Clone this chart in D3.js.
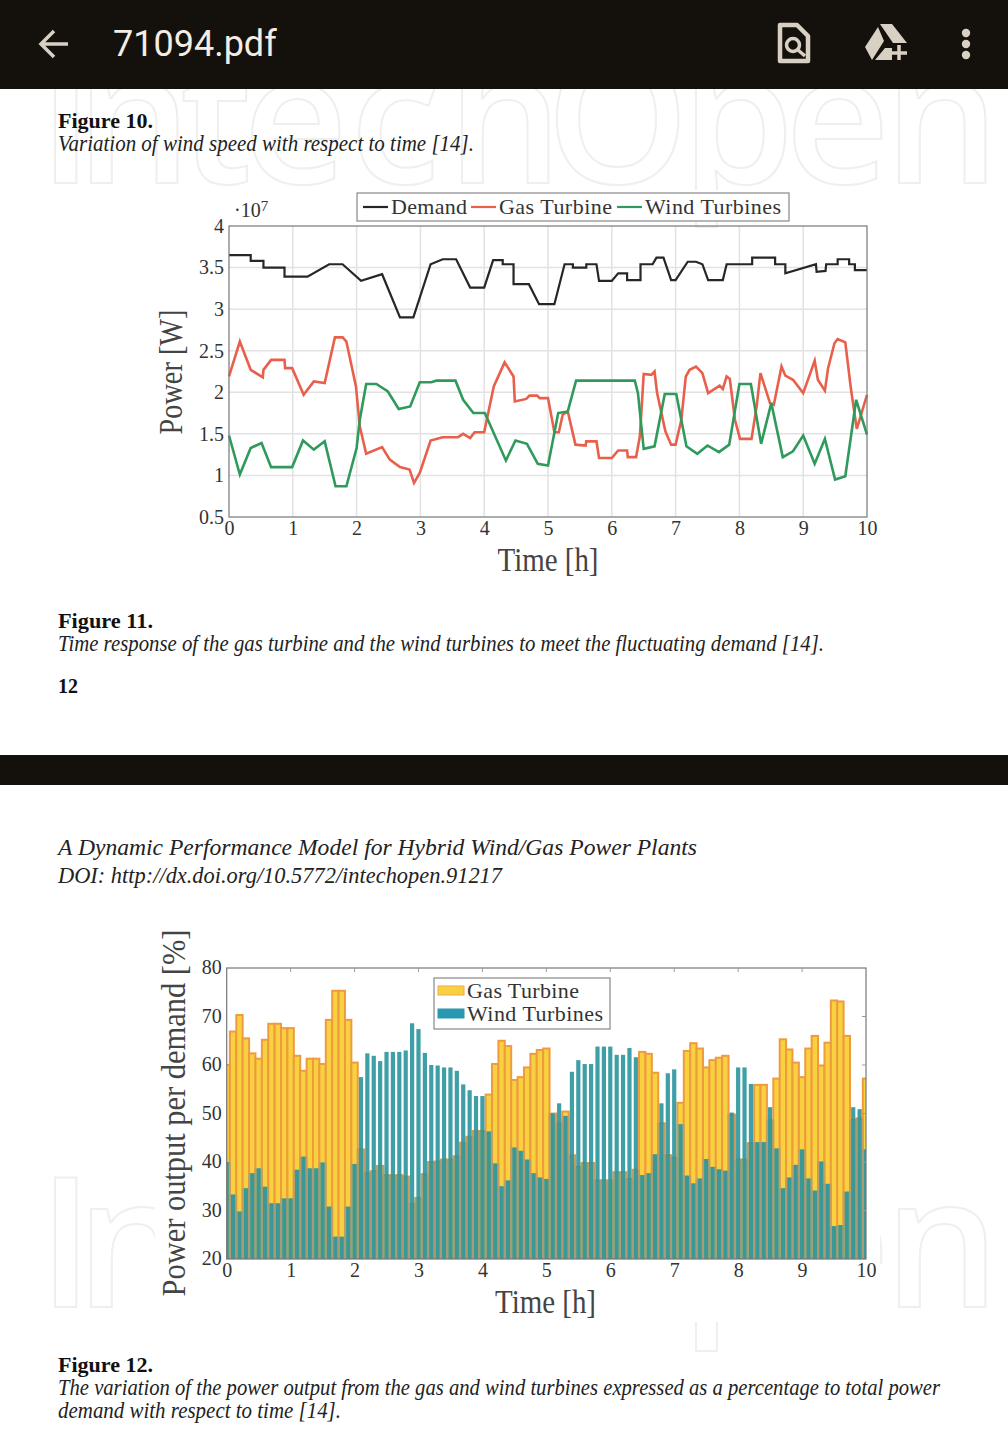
<!DOCTYPE html>
<html>

<head>
    <meta charset="utf-8">
    <style>
        body {
            margin: 0;
            background: #fff;
        }

        svg {
            display: block;
        }

        text {
            font-family: "Liberation Serif", serif;
            fill: #2a2a2a;
        }

        .caption-bold {
            font-size: 21px;
            font-weight: bold;
            fill: #111;
        }

        .caption {
            font-size: 23px;
            font-style: italic;
            fill: #222;
        }

        .watermark {
            font-family: "Open Sans", sans-serif;
            font-weight: 600;
            font-size: 182px;
            fill: none;
            stroke: #efefef;
            stroke-width: 2;
        }

        .tick text {
            font-size: 20px;
            fill: #333;
        }

        .axis-label {
            font-size: 33px;
            fill: #444;
        }

        .legend-label {
            font-size: 22px;
            fill: #333;
        }

        .domain {
            display: none;
        }
    </style>
</head>

<body>
    <svg width="1008" height="1448"></svg>

    <script src="https://d3js.org/d3.v7.min.js"></script>

    <script>
        // Figure 11: vertices, time in hours, power in 10^7 W
        let demandTime = [0, .34, .34, .54, .54, .87, .87, 1.23, 1.57, 1.78, 2.07, 2.4, 2.68, 2.89, 3.16, 3.35, 3.56, 3.78, 4, 4.14, 4.29, 4.29, 4.46, 4.46, 4.7, 4.86, 5.1, 5.26, 5.39, 5.39, 5.6, 5.6, 5.76, 5.8, 6, 6.1, 6.24, 6.24, 6.45, 6.45, 6.64, 6.7, 6.81, 6.93, 7, 7.19, 7.32, 7.42, 7.51, 7.74, 7.8, 8.2, 8.2, 8.56, 8.56, 8.72, 8.72, 9.2, 9.21, 9.35, 9.36, 9.54, 9.54, 9.72, 9.72, 9.81, 9.81, 10]
        let demandPower = [3.65, 3.65, 3.58, 3.58, 3.5, 3.5, 3.39, 3.39, 3.54, 3.54, 3.34, 3.42, 2.9, 2.9, 3.54, 3.6, 3.6, 3.26, 3.26, 3.59, 3.59, 3.54, 3.54, 3.3, 3.3, 3.06, 3.06, 3.54, 3.54, 3.5, 3.5, 3.54, 3.54, 3.34, 3.34, 3.43, 3.43, 3.35, 3.35, 3.54, 3.54, 3.62, 3.62, 3.35, 3.35, 3.57, 3.57, 3.54, 3.35, 3.35, 3.54, 3.54, 3.62, 3.62, 3.54, 3.54, 3.43, 3.54, 3.45, 3.46, 3.54, 3.54, 3.6, 3.6, 3.54, 3.54, 3.47, 3.47]

        let gasTime = [0, .17, .34, .53, .54, .66, .87, .88, .99, 1.17, 1.33, 1.5, 1.66, 1.78, 1.84, 1.99, 2.05, 2.15, 2.4, 2.52, 2.68, 2.83, 2.9, 2.99, 3.16, 3.35, 3.59, 3.67, 3.78, 3.85, 4, 4.15, 4.32, 4.46, 4.48, 4.66, 4.71, 4.83, 4.87, 5, 5.1, 5.17, 5.23, 5.31, 5.43, 5.59, 5.6, 5.76, 5.8, 6, 6.1, 6.24, 6.25, 6.38, 6.44, 6.5, 6.62, 6.67, 6.71, 6.84, 6.93, 7, 7.09, 7.16, 7.22, 7.32, 7.42, 7.51, 7.69, 7.74, 7.8, 7.85, 7.93, 8.01, 8.19, 8.27, 8.33, 8.48, 8.54, 8.66, 8.72, 8.84, 9, 9.18, 9.23, 9.34, 9.39, 9.49, 9.54, 9.66, 9.75, 9.84, 10]
        let gasPower = [2.19, 2.61, 2.27, 2.18, 2.27, 2.39, 2.39, 2.29, 2.29, 1.97, 2.13, 2.11, 2.66, 2.66, 2.61, 2.07, 1.59, 1.26, 1.34, 1.19, 1.1, 1.07, .91, 1.03, 1.42, 1.46, 1.46, 1.5, 1.45, 1.52, 1.52, 2.07, 2.36, 2.19, 1.89, 1.92, 1.96, 1.96, 1.93, 1.93, 1.52, 1.52, 1.73, 1.77, 1.37, 1.36, 1.41, 1.41, 1.21, 1.21, 1.3, 1.3, 1.22, 1.22, 1.47, 2.22, 2.21, 2.25, 1.99, 1.53, 1.37, 1.37, 1.67, 2.19, 2.27, 2.31, 2.23, 1.99, 2.08, 2.04, 2.19, 2.16, 1.67, 1.44, 1.44, 1.83, 2.23, 1.87, 1.85, 2.31, 2.2, 2.15, 1.99, 2.38, 2.15, 2.02, 2.29, 2.59, 2.64, 2.6, 2.03, 1.56, 1.97]

        let windTime = [0, .17, .34, .51, .66, .99, 1.16, 1.33, 1.5, 1.67, 1.84, 2, 2.05, 2.15, 2.31, 2.49, 2.66, 2.84, 2.99, 3.17, 3.25, 3.55, 3.67, 3.83, 4.01, 4.34, 4.49, 4.67, 4.84, 5, 5.16, 5.31, 5.44, 5.49, 6.36, 6.41, 6.5, 6.67, 6.83, 7.01, 7.17, 7.34, 7.5, 7.68, 7.84, 8, 8.18, 8.34, 8.5, 8.68, 8.84, 9, 9.18, 9.34, 9.5, 9.66, 9.83, 10]
        let windPower = [1.48, 1.01, 1.33, 1.39, 1.1, 1.1, 1.42, 1.31, 1.41, .87, .87, 1.33, 1.67, 2.1, 2.1, 2.01, 1.8, 1.83, 2.12, 2.12, 2.14, 2.14, 1.91, 1.75, 1.75, 1.18, 1.42, 1.38, 1.14, 1.12, 1.75, 1.77, 2.14, 2.14, 2.14, 1.99, 1.32, 1.35, 1.98, 1.98, 1.35, 1.26, 1.36, 1.28, 1.37, 2.1, 2.1, 1.38, 1.87, 1.22, 1.29, 1.48, 1.14, 1.44, .95, .99, 1.91, 1.49]

        // Figure 12: one value every 0.1 h, percent of demand
        let gasShare = [60, 66.9, 70.3, 65.5, 62.4, 61.3, 65.2, 68.5, 68.5, 67.6, 67.6, 61.9, 58.8, 61.3, 61.3, 60.2, 69.3, 75.3, 75.3, 69.3, 60.5, 42.6, 37.7, 38.1, 39.2, 37.3, 37.3, 37.3, 37, 31.4, 32.6, 37.5, 40, 40.1, 40.5, 40.5, 41.2, 44, 45.2, 46.4, 46.4, 53.9, 60.2, 65, 63.9, 56.9, 57.5, 59.5, 62.3, 63.1, 63.4, 50, 48, 50.4, 41.4, 39, 39.8, 39.8, 36.2, 36.2, 36.2, 37.9, 37.9, 36.5, 38.4, 62.7, 62.3, 58.4, 48, 41.4, 40.9, 52.2, 62.9, 64.5, 63.4, 59.5, 61, 61.5, 61.9, 49.8, 40.5, 40.5, 43.9, 55.9, 55.9, 48.7, 57.2, 65.3, 63.2, 60.5, 57.5, 63.4, 66, 59.9, 64.6, 73.3, 73.1, 66, 48.7, 49, 57.2]
        let windShare = [40, 33.3, 29.8, 34.6, 37.7, 38.7, 34.9, 31.5, 31.5, 32.5, 32.5, 38.4, 41.1, 38.7, 38.7, 39.9, 30.8, 24.6, 24.6, 30.8, 39.6, 57.5, 62.4, 61.9, 60.8, 62.7, 62.7, 62.7, 63, 68.6, 67.4, 62.5, 60, 59.9, 59.5, 59.5, 58.8, 56, 54.8, 53.6, 53.6, 46.3, 39.7, 35, 36.2, 43, 42.3, 40.5, 37.7, 36.8, 36.5, 50, 52.1, 49.5, 58.6, 61, 60.2, 60.2, 63.8, 63.8, 63.8, 62.1, 62.1, 63.5, 61.6, 37.3, 37.7, 41.6, 52.1, 58.3, 59.1, 47.8, 37.2, 35.6, 36.6, 40.6, 39, 38.5, 38.2, 50.2, 59.5, 59.5, 56.1, 44.1, 44.1, 51.3, 42.8, 34.6, 36.8, 39.4, 42.6, 36.6, 34.1, 40.1, 35.5, 26.8, 27, 33.9, 51.3, 50.9, 42.6]

        let hourTicks = [0, 1, 2, 3, 4, 5, 6, 7, 8, 9, 10]
        let powerTicks = [0.5, 1, 1.5, 2, 2.5, 3, 3.5, 4]
        let shareTicks = [20, 30, 40, 50, 60, 70, 80]

        let black = "#14100c"
        let iconColor = "#d9d0c4"

        let svg = d3.select("svg")

        // watermarks go first, the figure images sit on top of them
        let letterX = "38 76 180 243 350 447 546 681 785 884"
        svg.append("text").attr("class", "watermark").attr("x", letterX).attr("y", 183).text("IntechOpen")
        svg.append("text").attr("class", "watermark").attr("x", letterX).attr("y", 1307).text("IntechOpen")

        svg.append("rect").attr("x", 115).attr("y", 190).attr("width", 775).attr("height", 30).attr("fill", "#fff")
        svg.append("rect").attr("x", 155).attr("y", 925).attr("width", 725).attr("height", 397).attr("fill", "#fff")

        // top bar and the divider between the pages
        svg.append("rect").attr("width", 1008).attr("height", 89).attr("fill", black)
        svg.append("rect").attr("y", 755).attr("width", 1008).attr("height", 30).attr("fill", black)

        svg.append("text").attr("x", 113).attr("y", 56).text("71094.pdf")
            .style("font-family", "Roboto, sans-serif").style("font-size", "36px").style("fill", "#f3ede4")

        svg.append("path").attr("d", "M68 44H41M54 31L41 44L54 57")
            .attr("fill", "none").attr("stroke", iconColor).attr("stroke-width", 3.5)

        // search-in-document icon
        svg.append("path").attr("d", "M780 25H797L808 36V61H780Z")
            .attr("fill", "none").attr("stroke", iconColor).attr("stroke-width", 4.5).attr("stroke-linejoin", "round")
        svg.append("circle").attr("cx", 793).attr("cy", 45).attr("r", 6.5)
            .attr("fill", "none").attr("stroke", iconColor).attr("stroke-width", 3.5)
        svg.append("path").attr("d", "M798 50L805 56").attr("stroke", iconColor).attr("stroke-width", 3.5)

        // drive icon with the plus
        svg.append("path").attr("d", "M880 24H892L907 43H893ZM878 27L884 41L872 60L865 47ZM885 48H892V60H875Z").attr("fill", iconColor)
        svg.append("path").attr("d", "M899 45V60M892 53H907").attr("stroke", iconColor).attr("stroke-width", 3.5)

        svg.append("g").selectAll("circle").data([33, 44, 55]).join("circle")
            .attr("cx", 966).attr("cy", d => d).attr("r", 4.2).attr("fill", iconColor)

        // page text
        function caption(text, cls, y, x2) {
            svg.append("text").attr("class", cls).attr("x", 58).attr("y", y)
                .attr("textLength", x2 - 58).attr("lengthAdjust", "spacingAndGlyphs").text(text)
        }
        caption("Figure 10.", "caption-bold", 128, 153)
        caption("Variation of wind speed with respect to time [14].", "caption", 151, 474)
        caption("Figure 11.", "caption-bold", 628, 153)
        caption("Time response of the gas turbine and the wind turbines to meet the fluctuating demand [14].", "caption", 651, 824)
        caption("12", "caption-bold", 693, 78)
        caption("A Dynamic Performance Model for Hybrid Wind/Gas Power Plants", "caption", 855, 697)
        caption("DOI: http://dx.doi.org/10.5772/intechopen.91217", "caption", 883, 502)
        caption("Figure 12.", "caption-bold", 1372, 153)
        caption("The variation of the power output from the gas and wind turbines expressed as a percentage to total power", "caption", 1395, 940)
        caption("demand with respect to time [14].", "caption", 1418, 341)

        // ---- Figure 11 ----
        let x1 = d3.scaleLinear().domain([0, 10]).range([229, 867])
        let y1 = d3.scaleLinear().domain([0.5, 4]).range([517, 226])

        let plot1 = svg.append("g")

        plot1.append("g").selectAll("line").data(hourTicks.slice(1, -1)).join("line")
            .attr("x1", d => x1(d)).attr("x2", d => x1(d)).attr("y1", 226).attr("y2", 517)
            .attr("stroke", "#e2e2e2").attr("stroke-width", 1.5)
        plot1.append("g").selectAll("line").data(powerTicks.slice(1, -1)).join("line")
            .attr("x1", 229).attr("x2", 867).attr("y1", d => y1(d)).attr("y2", d => y1(d))
            .attr("stroke", "#e2e2e2").attr("stroke-width", 1.5)

        let lineSeries = [
            { time: demandTime, power: demandPower, color: "#262626", width: 2.2 },
            { time: gasTime, power: gasPower, color: "#e8604c", width: 2.6 },
            { time: windTime, power: windPower, color: "#2f9a5c", width: 2.6 }
        ]
        let powerLine = d3.line().x(d => x1(d[0])).y(d => y1(d[1]))

        plot1.append("g").selectAll("path").data(lineSeries).join("path")
            .attr("fill", "none").attr("stroke", d => d.color).attr("stroke-width", d => d.width)
            .attr("d", d => powerLine(d3.zip(d.time, d.power)))

        plot1.append("rect").attr("x", 229).attr("y", 226).attr("width", 638).attr("height", 291)
            .attr("fill", "none").attr("stroke", "#777").attr("stroke-width", 1.2)

        let xAxis1 = d3.axisBottom(x1).tickValues(hourTicks).tickSize(0).tickPadding(4)
        svg.append("g").attr("transform", "translate(0,517)").call(xAxis1)
            .call(g => g.selectAll("text").style("font-family", "'Liberation Serif'"))

        let yAxis1 = d3.axisLeft(y1).tickValues(powerTicks).tickSize(0).tickPadding(5).tickFormat(d3.format("~g"))
        svg.append("g").attr("transform", "translate(229,0)").call(yAxis1)
            .call(g => g.selectAll("text").style("font-family", "'Liberation Serif'"))

        let exponent = svg.append("text").attr("x", 234).attr("y", 217).style("font-size", "20px").style("fill", "#333")
        exponent.append("tspan").text("·10")
        exponent.append("tspan").attr("dy", -6).style("font-size", "15px").text("7")

        svg.append("text").attr("class", "axis-label").attr("x", 548).attr("y", 571)
            .attr("text-anchor", "middle").attr("textLength", 101).attr("lengthAdjust", "spacingAndGlyphs").text("Time [h]")
        svg.append("text").attr("class", "axis-label").attr("text-anchor", "middle")
            .attr("textLength", 125).attr("lengthAdjust", "spacingAndGlyphs")
            .attr("transform", "translate(182,372) rotate(-90)").text("Power [W]")

        // legend on top of figure 11
        svg.append("rect").attr("x", 357).attr("y", 193).attr("width", 432).attr("height", 28)
            .attr("fill", "#fff").attr("stroke", "#888").attr("stroke-width", 1.2)
        let legend1 = [
            { name: "Demand", color: "#262626", x: 363, end: 467 },
            { name: "Gas Turbine", color: "#e8604c", x: 471, end: 612 },
            { name: "Wind Turbines", color: "#2f9a5c", x: 617, end: 781 }
        ]
        legend1.forEach(d => {
            svg.append("line").attr("x1", d.x).attr("x2", d.x + 25).attr("y1", 207).attr("y2", 207)
                .attr("stroke", d.color).attr("stroke-width", 2.2)
            svg.append("text").attr("class", "legend-label").attr("x", d.x + 28).attr("y", 214)
                .attr("textLength", d.end - d.x - 28).text(d.name)
        })

        // ---- Figure 12 ----
        let x2 = d3.scaleLinear().domain([0, 10]).range([226.7, 866])
        let y2 = d3.scaleLinear().domain([20, 80]).range([1259, 968])
        let barStep = x2(0.1) - x2(0)

        svg.append("clipPath").attr("id", "bars-clip").append("rect")
            .attr("x", 226.7).attr("y", 968).attr("width", 639.3).attr("height", 291)

        let plot2 = svg.append("g").attr("clip-path", "url(#bars-clip)")

        plot2.append("g").selectAll("rect").data(gasShare).join("rect")
            .attr("x", (d, i) => x2(i / 10) - barStep / 2)
            .attr("width", barStep)
            .attr("y", d => y2(d))
            .attr("height", d => 1259 - y2(d))
            .attr("fill", "#f8d23e").attr("stroke", "#f09a40").attr("stroke-width", 2)

        // where both bars overlap the orange edges turn tan
        plot2.append("g").selectAll("rect").data(gasShare.map((d, i) => Math.min(d, windShare[i]))).join("rect")
            .attr("x", (d, i) => x2(i / 10) - barStep / 2 - 1)
            .attr("width", barStep + 2)
            .attr("y", d => y2(d))
            .attr("height", d => 1259 - y2(d))
            .attr("fill", "#6a9aa8").attr("fill-opacity", .3)

        plot2.append("g").selectAll("rect").data(windShare).join("rect")
            .attr("x", (d, i) => x2(i / 10) - 2.1)
            .attr("width", 4.2)
            .attr("y", d => y2(d))
            .attr("height", d => 1259 - y2(d))
            .attr("fill", "#2a959c").attr("fill-opacity", .9)

        svg.append("rect").attr("x", 226.7).attr("y", 968).attr("width", 639.3).attr("height", 291)
            .attr("fill", "none").attr("stroke", "#777").attr("stroke-width", 1.2)

        let xAxis2 = d3.axisBottom(x2).tickValues(hourTicks).tickSize(0).tickPadding(4)
        svg.append("g").attr("transform", "translate(0,1259)").call(xAxis2)
            .call(g => g.selectAll("text").style("font-family", "'Liberation Serif'"))

        let yAxis2 = d3.axisLeft(y2).tickValues(shareTicks).tickSize(0).tickPadding(5)
        svg.append("g").attr("transform", "translate(226.7,-0.5)").call(yAxis2)
            .call(g => g.selectAll("text").style("font-family", "'Liberation Serif'"))

        // small inward ticks along the top and right edges
        svg.append("g").selectAll("line").data(hourTicks.slice(1, -1)).join("line")
            .attr("x1", d => x2(d)).attr("x2", d => x2(d)).attr("y1", 968).attr("y2", 972)
            .attr("stroke", "#999")
        svg.append("g").selectAll("line").data(shareTicks.slice(1, -1)).join("line")
            .attr("x1", 862).attr("x2", 866).attr("y1", d => y2(d)).attr("y2", d => y2(d))
            .attr("stroke", "#999")

        svg.append("text").attr("class", "axis-label").attr("x", 545.5).attr("y", 1313)
            .attr("text-anchor", "middle").attr("textLength", 101).attr("lengthAdjust", "spacingAndGlyphs").text("Time [h]")
        svg.append("text").attr("class", "axis-label").attr("text-anchor", "middle")
            .attr("textLength", 367).attr("lengthAdjust", "spacingAndGlyphs")
            .attr("transform", "translate(185,1113) rotate(-90)").text("Power output per demand [%]")

        // legend for figure 12
        svg.append("rect").attr("x", 434).attr("y", 978).attr("width", 176).attr("height", 51)
            .attr("fill", "#fff").attr("stroke", "#888").attr("stroke-width", 1.2)
        let legend2 = [
            { name: "Gas Turbine", fill: "#f8d23e", stroke: "#f0a850", y: 986, end: 579 },
            { name: "Wind Turbines", fill: "#2a98b0", stroke: "#2a98b0", y: 1009, end: 603 }
        ]
        legend2.forEach(d => {
            svg.append("rect").attr("x", 438).attr("y", d.y).attr("width", 26).attr("height", 9)
                .attr("fill", d.fill).attr("stroke", d.stroke)
            svg.append("text").attr("class", "legend-label").attr("x", 467).attr("y", d.y + 12)
                .attr("textLength", d.end - 467).text(d.name)
        })
    </script>
</body>

</html>
